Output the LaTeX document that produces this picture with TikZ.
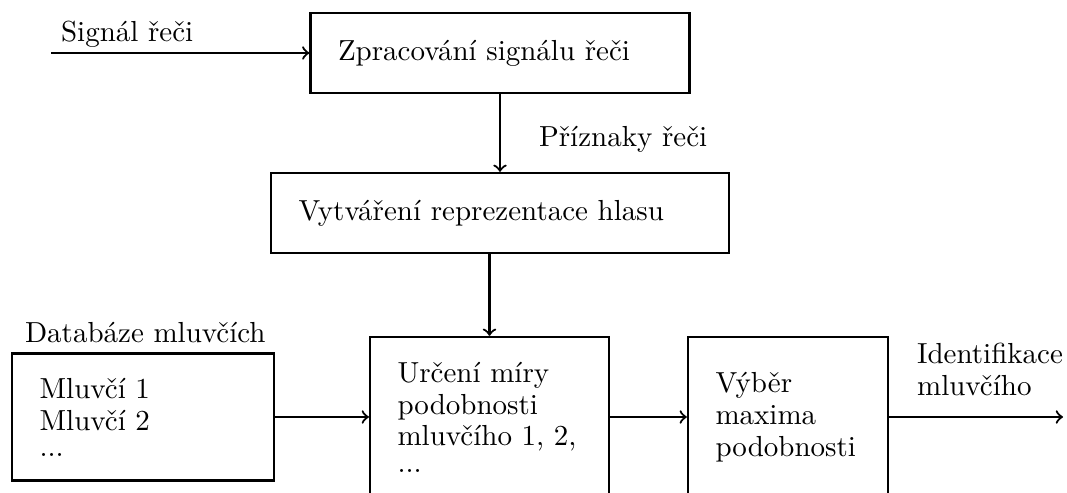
\documentclass[tikz,border=0pt]{standalone}
\usepackage{fontspec}
\begin{document}
\begin{tikzpicture}[x=0.3448pt, y=-0.3448pt, line width=0.75pt,
  every node/.style={font=\fontsize{10}{11}\selectfont},
  block/.style={draw, rectangle, align=left, inner xsep=9.5pt, inner ysep=2pt},
  lbl/.style={inner sep=0pt, align=left}]
  \useasboundingbox (0,0) rectangle (1067,493);
  \clip (0,0) rectangle (1067,493);

  % processing chain
  \node[block, text width=111.7pt, minimum height=27.6pt] (A) at (500,53) {Zpracování signálu řeči};
  \node[block, text width=138.9pt, minimum height=27.6pt] (B) at (500,213) {Vytváření reprezentace hlasu};
  \node[block, text width=63.4pt, minimum height=55.2pt] (C) at (489.5,417)
    {Určení míry\\podobnosti\\mluvčího 1, 2,\\[-2pt]...};
  \node[block, text width=50pt, minimum height=55.2pt] (D) at (788,417)
    {Výběr\\maxima\\podobnosti};
  \node[block, text width=71.3pt, minimum height=43.8pt] (E) at (143,417)
    {Mluvčí 1\\Mluvčí 2\\[-2pt]...};

  % free ends
  \coordinate (in) at (51,53);
  \coordinate (out) at (1063,417);

  % labels
  \node[lbl, anchor=base west] (sig) at (60,42) {Signál řeči};
  \node[lbl, anchor=base west] (feat) at (538,147) {Příznaky řeči};
  \node[lbl, anchor=base west] (db) at (24,343) {Databáze mluvčích};
  \node[lbl, anchor=north west] (ident) at (916,342) {Identifikace\\mluvčího};

  % connectors
  \draw[->] (in) -- (A.west);
  \draw[->] (A.south) -- (B.north);
  \draw[->] (B.south -| C.north) -- (C.north);
  \draw[->] (E.east) -- (C.west);
  \draw[->] (C.east) -- (D.west);
  \draw[->] (D.east) -- (out);
\end{tikzpicture}
\end{document}
